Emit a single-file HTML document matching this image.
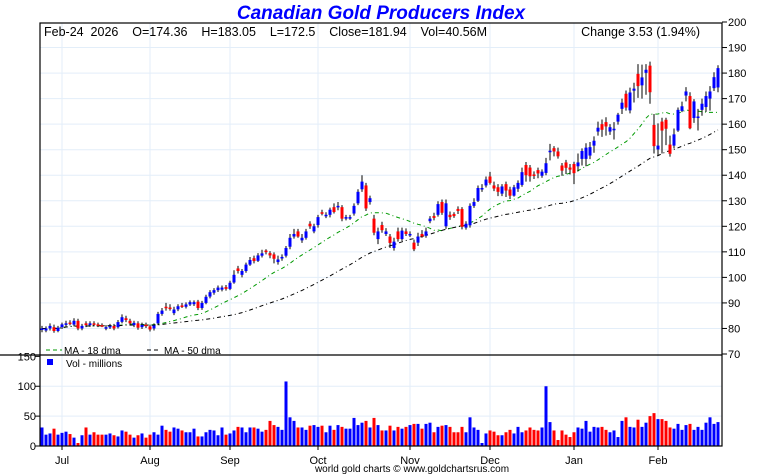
<!DOCTYPE html>
<html><head><meta charset="utf-8"><style>
body{margin:0;background:#fff;}
svg{display:block;font-family:"Liberation Sans",sans-serif;}
</style></head><body>
<svg id="chart" width="760" height="475" xmlns="http://www.w3.org/2000/svg">
<text x="381" y="19" text-anchor="middle" font-size="19" font-weight="bold" font-style="italic" fill="#0000ff">Canadian Gold Producers Index</text>
<g id="grid"></g>
<g id="ma"></g>
<g id="candles"></g>
<g id="vols"></g>
<g id="axes"></g>
<text x="44" y="36" font-size="12.5" fill="#000" xml:space="preserve">Feb-24  2026    O=174.36    H=183.05    L=172.5    Close=181.94    Vol=40.56M</text>
<text x="700" y="36" text-anchor="end" font-size="12.5" fill="#000">Change 3.53 (1.94%)</text>
<g>
<line x1="46" y1="350" x2="62" y2="350" stroke="#009900" stroke-dasharray="4,3"/>
<text x="64" y="354" font-size="10">MA - 18 dma</text>
<line x1="147" y1="350" x2="161" y2="350" stroke="#000" stroke-dasharray="4,3"/>
<text x="164" y="354" font-size="10">MA - 50 dma</text>
</g>
<g>
<rect x="47" y="359" width="6" height="6" fill="#0000ff"/>
<text x="66" y="367" font-size="10">Vol - millions</text>
</g>
<text x="412" y="472" text-anchor="middle" font-size="10">world gold charts © www.goldchartsrus.com</text>
</svg>
<script>
const opens=[79.5,79.2,80,80.5,79,80.5,81.5,82.3,81.5,83,80,82,81.3,82,81.6,81.3,80,80.5,81,80.5,82.6,84,83,81.3,82,80.5,81.5,80.8,80,82,85.7,88.5,88.2,86,87.5,89,88.5,89.4,89.5,90.5,88,90,92.5,94,95,95.2,96.2,95.5,98,103.5,101,102.5,105,107.5,106.5,108.5,110.5,
109.5,109,106,107.5,108.5,112,116,118,114.5,115.5,121,118,120.5,125.5,124,124.5,127.5,127.5,127.5,123.4,123.4,125,129,134.5,136,129.5,123,115,120.5,117,116,111.5,118,115,118,116.5,113.6,113.6,117,116.3,122,124,124.5,129.5,120,124.5,124.8,126.8,126.8,119.5,120.4,128,130,134.7,136,139.5,136,135.3,
132.8,136.5,134.4,132,134.7,136.2,144,143,140.3,142,139.8,140.9,149,150.6,149.3,143.8,145,143,144.4,143.5,146.4,146.4,147.7,151.6,157.1,160,160.8,157.1,157.6,161,166,171.9,165.4,173.1,179.7,175.2,180.1,182.9,159.7,150.1,161,161.7,152,151.6,157.5,165.2,171.2,171,162.4,162.4,165.6,166.7,170,174.1,174.36];
const closes=[80,80,81,79,80.3,81.6,82,82,83,80,81,81.3,82,81.6,81.2,81,80.5,81,80,82.5,84.4,83.3,82,82.2,80.3,81.4,81,79.6,81.2,85.7,87,88,87.7,87.4,88.7,88.7,89.4,90.3,90.3,88,90,92.4,94.2,95,96,96,95.5,97.9,101,102.5,102.5,105,106.8,106.4,108.6,109.4,109.9,
108.6,107.3,107,108,111.5,115.5,117,116,115.5,118,120,120,123.6,125,124.5,126.5,125.6,128,123,123.6,123.6,128,133.5,137.5,127,131,117.5,118,118.5,118,113.5,114,115,118.3,117,117,111,116,116,118,123,123.3,128.7,125.3,129,123.6,124,126,119.8,121,128,129.5,135,135,138.3,137,134.8,133.5,
135.6,134,132,135.3,137,141.2,140,139.6,140,140.7,141.4,144.7,149.6,149.3,147.4,141.8,142.9,142.2,140.8,145,149.5,150.8,151,153.5,158.6,157.8,159.1,158.8,158.2,163.7,168.4,166.5,172.4,173.9,174.9,178.3,181.3,172.5,151.4,151.6,157.5,158.2,148.4,156,165.6,167,172.8,158.4,168.9,163,168,171,172.8,178.4,181.94];
const highs=[81,80.8,82,81.5,81,82.3,83,83.2,84,83.8,81.8,82.8,82.8,82.8,82.3,82,81.3,81.8,81.8,83.3,85.5,85,83.8,83,82.8,82.3,82.3,81.5,82,86.5,88,90,89.5,88.5,89.5,90,90.2,91,91,91.2,90.8,93.2,95,95.8,96.8,96.8,97,98.7,102.8,104.5,103.3,105.8,108,108.5,109.5,110.8,111,
110.3,109.8,108.5,109,112.3,117,119,119,117,119,122,121,124.5,126.5,125.5,127.3,129,129.5,128.3,124.5,124.5,129,134.5,140,137,132,124.5,119.5,121.8,119.3,117,115.5,119.5,119.5,119.2,118,114.8,117.5,118.5,119.5,124,125.3,129.8,130.5,130.5,125.8,125.5,127.8,127.5,122,129,131,136,136.5,139.5,141.3,137.5,136.5,
136.5,137.5,135.5,136.2,138,143,145.2,144,141.5,143,142.3,146.8,152.3,151.4,150.8,144.8,146,144.4,145.3,148.5,150.5,152.5,153,155.2,161,161.8,162.7,160,160.8,164.4,170,173.2,174.3,176.2,183.5,183.3,183.5,184.5,164,160.3,162.5,162.5,155.5,158.3,166.5,168.8,174.5,172.5,169.8,166,170,172.8,174.9,180.3,183.05];
const lows=[78.5,78.5,79.2,78.3,78.5,79.8,80.8,81.2,80.8,79.3,79.3,80.5,80.6,80.8,80.5,80.5,79.3,79.8,79.3,80,82,82.5,81.2,80.5,79.5,79.8,80.2,78.8,79.2,81.3,85,87,87,85.2,86.8,88,87.8,88.8,88.8,87.2,87.3,89.5,91.8,93.2,94.3,94.5,94.8,95,97.5,101.5,100,101.8,104.5,105.5,106,107.8,109,
107.5,105.5,105,106.5,107.8,111,115.2,115.5,113.5,114.8,119,117.3,119.5,124.3,123.2,123.5,125,126.3,122,122.3,122.5,124.2,128.3,133.5,126,128.5,116.5,113,117.5,116.2,111.5,110.5,114,114.3,116.2,115.8,110.3,112.3,115.5,115.5,121.2,122.3,123.8,124.5,119,122.5,123.3,124.8,118.8,118.7,119.5,127.2,129.5,133.5,135.2,136.3,133.8,131.8,
131.8,131.5,130.7,131.6,133.5,135.5,137.5,137.5,138.5,138.8,139,140,145.8,147.4,146.5,139.8,140.5,140.3,136.5,141.5,143.8,143.5,146.3,148.8,155.5,155,155.5,155.8,154,159.8,164,165.3,164.2,168.5,170.3,170,171.5,168,148.5,147.8,148.5,151.8,147.3,150.5,157,164.7,168.9,158,160.5,157.5,163.3,164.8,165.3,173,172.5];
const volumes=[31,19,21,29,19,22,24,20,14,5,18,31,19,23,19,19,19,21,18,16,26,24,19,14,18,21,14,19,23,19,34,27,24,31,29,26,23,23,29,16,16,23,27,26,18,31,19,21,26,32,31,23,31,31,29,24,27,42,35,32,27,108,
48,42,31,31,27,34,35,32,34,23,34,27,35,32,29,29,47,35,39,42,31,47,35,26,26,34,26,32,29,32,35,37,37,29,37,39,23,32,34,35,32,23,23,32,23,48,31,27,5,21,26,24,18,
18,23,27,21,32,23,26,31,27,26,31,100,40,26,10,26,19,15,23,31,29,42,24,32,31,32,27,23,26,15,42,48,32,31,44,32,39,50,55,45,45,42,31,29,37,27,35,37,27,32,27,39,48,37,40];
const priceTicks=[70,80,90,100,110,120,130,140,150,160,170,180,190,200];
const volTicks=[0,50,100,150];
const monthLabels=["Jul","Aug","Sep","Oct","Nov","Dec","Jan","Feb"];
const monthIndex=[5,27,47,69,92,112,133,154];

const NS="http://www.w3.org/2000/svg";
const X0=42,X1=718,L=40,R=722,TOP=23,MID=355,BOT=446;
const N=closes.length;
const xs=i=>X0+(X1-X0)*i/(N-1);
const yp=v=>22+(200-v)*(332/130);
const yv=v=>BOT-v*(BOT-MID)/150*0.985;
function mk(tag,attrs,parent){const e=document.createElementNS(NS,tag);for(const k in attrs)e.setAttribute(k,attrs[k]);parent.appendChild(e);return e;}
const grid=document.getElementById('grid'),axes=document.getElementById('axes');
priceTicks.forEach(t=>{const y=yp(t);
 if(t>70&&t<200){const g=mk('line',{x1:L,x2:R,y1:y,y2:y,stroke:'#e3eef9','stroke-width':1},grid);}
 mk('line',{x1:R,x2:R+5,y1:y,y2:y,stroke:'#000'},axes);
 const tx=mk('text',{x:R+6,y:y+4,'font-size':11},axes);tx.textContent=t;
 
 
});
volTicks.forEach(t=>{const y=yv(t);
 if(t>0&&t<150){const g=mk('line',{x1:L,x2:R,y1:y,y2:y,stroke:'#e3eef9'},grid);}
 mk('line',{x1:L-5,x2:L,y1:y,y2:y,stroke:'#000'},axes);
 const tx=mk('text',{x:L-4,y:y+4,'font-size':11,'text-anchor':'end'},axes);tx.textContent=t;
 
 
});
monthLabels.forEach((m,k)=>{const x=xs(monthIndex[k]);
 const g=mk('line',{x1:x,x2:x,y1:TOP,y2:BOT,stroke:'#e3eef9'},grid);
 
 
 mk('line',{x1:x,x2:x,y1:BOT,y2:BOT+4,stroke:'#000'},axes);
 const tx=mk('text',{x:x,y:464,'font-size':11,'text-anchor':'middle'},axes);tx.textContent=m;
 
 
});
mk('rect',{x:L,y:TOP,width:R-L,height:BOT-TOP,fill:'none',stroke:'#000','stroke-width':1.2},axes);
mk('line',{x1:0,x2:R,y1:MID,y2:MID,stroke:'#000','stroke-width':1.2},axes);
// moving averages
function ma(p){return closes.map((c,i)=>{const s=Math.max(0,i-p+1);let t=0;for(let j=s;j<=i;j++)t+=closes[j];return t/(i-s+1);});}
[[18,'#009900','ma-18-line'],[50,'#000','ma-50-line']].forEach(([p,col,name])=>{
 const pts=ma(p).map((v,i)=>xs(i).toFixed(1)+','+yp(v).toFixed(1)).join(' ');
 const pl=mk('polyline',{points:pts,fill:'none',stroke:col,'stroke-width':1,'stroke-dasharray':'4,3,1,3'},document.getElementById('ma'));
 
 
});
const cg=document.getElementById('candles'),vg=document.getElementById('vols');
for(let i=0;i<N;i++){
 const x=xs(i),o=opens[i],c=closes[i],up=c>=o,col=up?'#0000ff':'#ff0000';
 const w=mk('line',{x1:x,x2:x,y1:yp(highs[i]),y2:yp(lows[i]),stroke:'#000','stroke-width':1},cg);
 
 
 const top=yp(Math.max(o,c)),h=Math.max(1.5,Math.abs(yp(o)-yp(c)));
 const b=mk('rect',{x:x-1.5,y:top,width:3,height:h,fill:col},cg);
 
 
 if(i<volumes.length){const v=volumes[i];
  const vb=mk('rect',{x:x-1.5,y:yv(v),width:3,height:BOT-yv(v),fill:col},vg);
  
  }
}
</script>
</body></html>
